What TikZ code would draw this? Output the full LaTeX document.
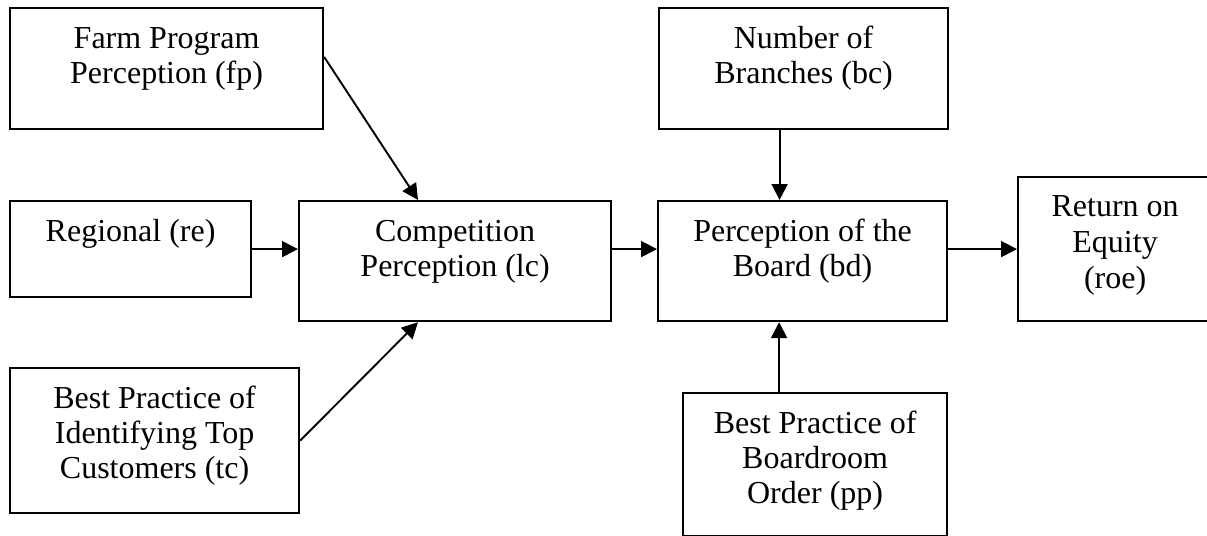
\documentclass[tikz,border=0pt]{standalone}
\usepackage{fontspec}
\setmainfont{Liberation Serif}
\usetikzlibrary{arrows.meta}
\newcommand\boxtext[3]{\parbox[t][#2][t]{#1}{\centering\rule{0pt}{20pt}#3}}
\tikzset{
  blk/.style={draw, line width=1.1pt, inner sep=0pt, anchor=north west,
    font=\fontsize{16}{17.5}\selectfont},
  arr/.style={line width=0.95pt, -{Triangle[length=8pt,width=8pt]}}
}
\begin{document}
\begin{tikzpicture}[x=0.5pt,y=-0.5pt]
\useasboundingbox (0,0) rectangle (1207,536);
\node[blk] (fp) at (9,7) {\boxtext{156.5pt}{60.5pt}{Farm Program\\Perception (fp)}};
\node[blk] (re) at (9,200) {\boxtext{120.5pt}{48pt}{Regional (re)}};
\node[blk] (comp) at (298,200) {\boxtext{156pt}{60pt}{Competition\\Perception (lc)}};
\node[blk] (tc) at (9,367) {\boxtext{144.5pt}{72.5pt}{Best Practice of\\Identifying Top\\Customers (tc)}};
\node[blk] (bc) at (658,7) {\boxtext{144.5pt}{60.5pt}{Number of\\Branches (bc)}};
\node[blk] (bd) at (657,200) {\boxtext{144.5pt}{60pt}{Perception of the\\Board (bd)}};
\node[blk] (pp) at (682,392) {\boxtext{132pt}{71.5pt}{Best Practice of\\Boardroom\\Order (pp)}};
\node[blk] (roe) at (1017,176) {\parbox[t][72pt][t]{97pt}{\centering\rule{0pt}{19.5pt}Return on\\[0.5pt]Equity\\[0.5pt](roe)}};
\coordinate (fps) at ([yshift=-25pt]fp.north east);
\coordinate (fpe) at ([xshift=60pt]comp.north west);
\coordinate (tce) at ([xshift=60pt]comp.south west);
\coordinate (cps) at ([yshift=6pt]comp.east);
\coordinate (bds) at ([yshift=6pt]bd.east);
\coordinate (bcs) at ([xshift=-12pt]bc.south);
\coordinate (pps) at ([xshift=-18pt]pp.north);
\draw[arr] (fps) -- (fpe);
\draw[arr] (tc.east) -- (tce);
\draw[arr] (re.east) -- (re.east -| comp.west);
\draw[arr] (cps) -- (cps -| bd.west);
\draw[arr] (bds) -- (bds -| roe.west);
\draw[arr] (bcs) -- (bcs |- bd.north);
\draw[arr] (pps) -- (pps |- bd.south);
\end{tikzpicture}
\end{document}
